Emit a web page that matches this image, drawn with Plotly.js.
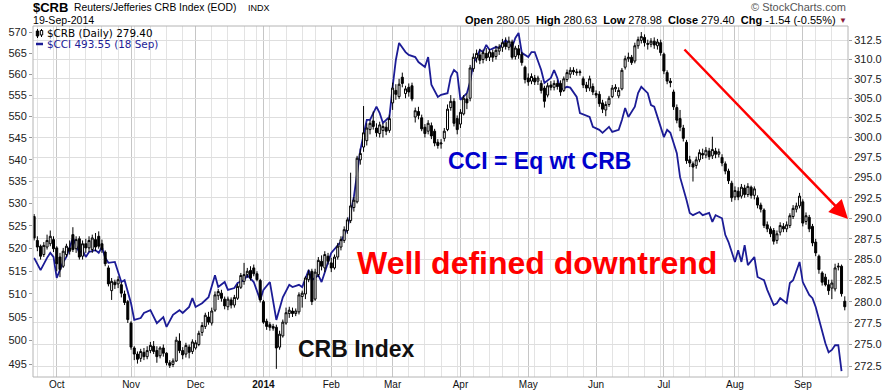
<!DOCTYPE html>
<html><head><meta charset="utf-8">
<script src="https://cdn.plot.ly/plotly-3.0.1.min.js"></script>
<style>html,body{margin:0;padding:0;background:#fff}#chart{width:893px;height:390px}</style>
</head><body><div id="chart"></div>
<script>
// ---- DATA (trading-day index 0 = 20-Sep-2013 ... 251 = 19-Sep-2014) ----
const crbOpen=[290.2,287.3,286.6,285.6,286.5,286.9,287.4,286.4,285.3,284.2,285.6,286.4,288.0,286.3,287.5,285.4,286.9,286.4,286.2,287.4,287.8,286.9,285.9,284.0,281.3,282.3,282.1,282.0,280.9,280.0,
277.5,274.6,273.9,273.4,274.1,273.6,274.3,274.8,274.3,273.7,274.6,274.0,272.9,272.7,273.1,275.4,274.3,273.9,274.7,274.2,
274.6,275.0,276.4,277.1,278.2,277.5,279.0,280.7,281.0,280.3,279.4,280.2,279.6,280.4,281.7,282.4,283.2,283.7,284.0,283.3,282.5,
280.0,277.7,277.3,277.1,277.0,274.7,276.0,277.5,278.6,278.9,278.6,278.8,280.6,280.9,282.6,283.6,280.3,283.2,284.8,284.0,285.4,
284.6,284.0,285.3,286.5,287.3,288.5,289.7,291.3,292.0,297.2,298.8,299.6,301.0,302.1,301.2,300.5,300.9,301.3,300.9,
304.4,306.0,305.2,307.7,305.6,306.4,306.6,302.6,303.3,302.5,301.3,300.8,301.5,300.8,299.4,299.2,299.9,301.0,303.8,304.6,302.4,
301.7,303.0,304.9,305.0,308.8,310.2,310.6,310.0,310.8,310.3,310.9,310.4,311.1,311.6,312.2,311.6,312.3,310.4,311.4,310.7,309.0,
307.6,307.2,307.6,307.2,306.9,306.3,305.4,306.7,306.4,306.9,306.9,306.0,307.4,308.1,308.6,308.4,308.3,307.5,306.7,306.3,306.5,
305.6,305.5,304.4,303.5,304.2,305.2,306.2,305.3,306.2,309.0,310.1,310.3,309.8,311.8,312.5,312.9,312.1,312.0,312.4,311.8,312.2,
310.7,308.3,307.2,305.8,303.8,302.4,301.2,299.4,297.2,296.7,296.5,297.2,298.0,297.8,298.3,297.7,298.3,297.9,297.5,296.7,295.8,294.3,
292.6,293.3,292.7,293.7,292.9,293.8,292.8,292.5,291.6,291.0,289.2,288.7,288.5,287.3,288.3,289.0,288.7,289.1,290.2,291.1,291.5,
292.0,289.6,290.1,289.0,287.1,285.4,283.4,282.9,282.0,281.6,281.5,284.1,284.2,280.05];
const crbHigh=[290.5,287.8,286.8,287.1,288.0,288.5,287.8,286.6,285.8,286.4,286.9,287.3,288.9,287.8,287.8,287.3,287.5,287.8,288.0,288.2,288.4,287.4,286.1,284.3,282.8,282.6,283.0,282.3,281.3,280.2,
277.7,274.8,274.2,274.5,274.6,274.8,275.3,275.4,274.8,274.8,275.0,274.1,273.2,273.4,275.9,276.3,274.7,275.2,275.0,275.6,
275.5,276.6,277.6,278.7,278.8,279.3,281.2,281.5,281.4,280.6,280.6,280.5,280.8,282.1,283.4,284.6,284.0,284.2,284.4,283.6,282.7,
280.2,278.0,277.6,277.4,277.3,276.6,277.9,279.3,279.4,279.3,279.2,281.1,281.3,283.0,283.8,283.9,283.9,285.3,285.5,286.0,285.8,
285.2,285.6,287.0,287.8,289.0,290.1,295.6,292.6,297.7,298.6,304.0,301.8,302.2,303.3,301.8,302.0,301.8,302.0,302.9,
307.0,306.8,307.5,308.3,306.6,306.9,307.0,303.8,303.9,302.9,301.7,302.2,301.9,301.1,299.8,299.8,301.2,304.2,305.4,305.0,302.8,
303.6,305.4,305.6,309.3,310.8,311.3,311.4,311.3,311.5,311.4,311.3,311.8,312.0,312.7,312.9,313.0,312.6,311.8,311.9,311.0,309.2,
308.2,308.2,308.0,307.9,307.3,306.6,307.0,307.2,307.3,307.3,307.3,307.8,308.7,309.0,309.0,308.8,308.7,307.8,307.1,307.9,306.9,
306.0,305.9,304.8,304.6,305.3,306.7,306.8,306.4,308.9,310.5,310.9,310.6,312.2,313.0,313.6,313.3,312.6,312.8,312.9,312.7,312.6,
310.9,308.6,307.6,306.1,304.2,303.5,301.6,299.7,297.7,297.0,297.6,298.5,298.6,298.8,298.7,300.1,298.7,298.6,297.9,297.0,296.1,294.6,
293.9,293.8,294.2,294.1,294.3,294.0,293.9,292.8,291.9,291.2,289.6,289.0,288.8,288.5,289.5,289.4,289.6,290.6,291.6,291.9,293.1,
292.3,290.7,290.4,289.3,287.5,285.6,283.6,283.3,282.6,282.6,284.5,284.6,284.4,280.63];
const crbLow=[287.3,286.0,285.0,285.3,286.2,286.6,285.9,283.6,282.9,284.0,285.3,285.6,285.9,285.8,285.0,285.0,285.8,285.9,285.8,286.0,286.3,285.8,284.2,281.8,280.2,281.5,281.6,280.5,279.6,277.5,
274.4,273.2,272.8,273.0,273.2,273.3,274.0,273.9,272.9,273.4,273.6,272.6,272.3,272.4,273.0,274.0,273.3,273.5,273.4,273.9,
274.4,274.8,276.0,276.8,277.3,277.2,278.8,280.2,280.0,279.1,279.0,279.2,279.3,280.2,281.5,282.0,282.8,282.5,283.0,282.4,279.9,
277.4,276.7,276.6,276.6,272.2,274.4,275.8,277.3,278.1,278.2,278.3,278.5,279.3,280.3,282.3,279.6,280.1,282.9,283.7,283.5,284.4,
283.5,283.8,285.0,286.1,287.0,288.1,289.4,290.8,291.8,296.6,298.2,299.0,300.4,301.0,300.1,300.0,300.0,300.3,300.6,
303.5,304.8,304.9,306.4,305.0,305.2,304.6,301.9,302.3,300.8,300.0,300.4,299.8,298.9,298.6,298.6,299.5,300.8,303.4,301.4,300.4,
301.2,302.8,303.6,304.6,308.4,309.6,309.4,309.5,309.8,309.8,309.7,310.0,310.6,311.0,311.3,311.2,310.0,310.0,310.1,309.2,306.9,
306.6,306.8,306.7,306.7,305.6,303.8,305.1,306.0,306.0,306.1,305.3,305.8,307.1,307.6,308.0,307.9,307.9,306.3,305.8,305.9,305.4,
305.0,303.9,303.1,302.7,303.9,305.0,305.8,305.0,306.0,308.7,309.7,309.3,309.5,311.4,312.1,311.7,311.3,311.6,311.4,311.3,310.5,
308.1,306.8,306.4,303.5,301.8,300.8,299.5,296.7,296.3,294.5,296.1,296.9,297.3,297.4,297.2,297.3,297.4,297.5,296.4,295.4,294.2,292.0,
292.2,292.2,292.4,292.5,292.6,292.4,292.3,291.2,290.7,288.8,288.3,287.7,286.8,286.9,287.9,288.3,288.3,288.8,289.9,290.7,291.2,
289.0,289.2,288.3,286.6,285.4,283.3,281.9,281.8,280.8,280.3,281.2,283.7,280.6,278.98];
const crbClose=[287.6,286.5,285.4,286.7,287.3,287.8,286.3,284.5,283.8,286.0,286.6,286.0,286.2,287.4,285.3,286.9,286.4,287.3,287.6,286.5,286.6,286.2,284.5,282.1,282.4,282.0,282.6,281.0,279.9,277.9,
274.7,273.9,273.3,274.2,273.6,274.3,274.9,274.2,273.6,274.6,274.0,272.9,272.6,273.1,275.5,274.3,273.8,274.9,274.1,275.3,
275.2,276.3,277.2,278.4,277.6,278.9,280.8,281.2,280.4,279.5,280.3,279.6,280.5,281.8,283.1,283.2,283.6,282.8,283.3,282.6,280.2,
277.6,277.1,277.0,276.9,274.6,276.2,277.6,278.7,279.0,278.6,278.9,280.8,281.0,282.8,283.3,280.0,283.5,284.9,284.2,285.6,284.8,
284.0,285.3,286.6,287.4,288.6,289.8,291.5,292.2,297.4,298.0,300.6,301.2,301.8,301.4,300.6,301.6,301.4,300.8,302.4,
306.3,305.5,306.8,306.9,306.2,305.8,304.9,303.4,302.8,301.1,300.5,301.8,300.2,299.3,299.0,299.3,300.8,303.6,304.6,301.8,301.0,
303.2,305.0,304.4,308.9,310.3,310.8,309.9,310.9,310.2,311.0,310.3,311.2,311.6,312.2,311.7,312.4,310.3,311.5,310.6,309.6,307.4,
307.1,307.8,307.1,307.6,306.0,304.6,306.6,306.4,306.9,306.5,305.8,307.5,308.3,308.6,308.4,308.3,308.4,306.7,306.3,307.5,305.8,
305.4,304.3,303.6,304.2,305.0,306.3,306.4,306.0,308.6,310.1,310.3,309.6,311.8,312.6,313.0,312.2,312.0,312.4,311.9,312.3,310.9,
308.5,307.2,307.0,303.9,302.2,301.3,299.9,297.1,296.8,296.3,297.2,298.1,297.8,298.4,297.6,298.5,297.9,298.2,296.8,295.8,294.6,292.5,
293.4,292.6,293.8,292.9,293.9,292.8,293.6,291.6,291.1,289.1,288.7,288.1,287.2,288.1,289.1,288.7,289.2,290.3,291.2,291.5,292.7,
289.4,290.3,288.7,287.0,285.8,283.8,282.3,282.0,281.3,282.2,284.0,284.2,280.94,279.40];

// CCI (equal-weight CRB), read at the trading days where the line changes direction
const cciDay=[0,2,4,5,6,7,9,10,12,14,15,16,17,19,20,21,22,23,25,26,27,28,30,31,33,34,36,38,40,41,43,45,46,48,49,50,52,54,56,57,59,60,62,63,65,66,68,70,71,73,74,75,77,79,80,82,83,85,86,88,89,90,92,95,97,99,101,103,104,106,107,108,110,111,112,113,115,116,118,119,121,122,123,125,126,128,129,130,131,132,134,135,136,137,138,139,140,141,143,144,146,148,149,150,151,153,154,155,157,158,160,161,162,163,165,166,168,169,172,173,175,176,178,179,181,182,183,184,186,187,188,190,191,192,193,194,195,196,197,199,200,202,203,204,206,207,209,210,211,213,214,215,217,218,219,220,221,223,224,226,227,229,230,231,233,234,235,237,238,240,241,242,243,245,246,247,248,249,250];
const cciVal=[517.9,515.2,517.9,519.0,518.1,513.5,517.0,518.1,522.3,519.0,519.6,518.1,519.2,519.6,519.0,520.3,517.9,516.8,517.0,514.8,512.6,513.0,508.0,504.4,504.8,505.9,506.5,503.7,505.0,502.9,505.5,506.5,505.9,507.2,509.1,507.2,508.0,509.3,514.1,511.5,512.6,510.9,511.3,512.4,513.0,514.1,512.6,508.7,510.9,512.6,508.7,504.4,509.3,512.0,511.5,512.0,511.5,515.2,513.0,514.1,512.6,514.8,519.0,521.5,524.5,531.5,542.2,549.2,549.2,552.3,550.8,548.5,549.9,557.0,563.4,567.5,565.3,564.6,564.1,562.9,561.7,564.1,557.5,554.6,555.1,555.5,559.4,561.0,560.3,553.9,555.5,558.2,562.7,563.9,565.8,565.3,567.0,565.8,566.5,566.3,568.2,566.5,568.7,569.9,565.1,564.1,565.3,565.3,561.0,557.9,559.1,561.0,559.1,556.3,557.0,556.8,554.6,550.8,549.9,547.6,546.9,546.2,547.6,546.4,546.9,549.2,552.0,549.9,552.3,555.5,557.0,555.5,552.7,552.3,549.9,547.6,545.2,546.9,546.2,541.5,536.0,530.8,527.9,527.4,528.1,527.4,527.9,525.9,527.4,526.7,523.0,521.4,517.0,519.6,517.0,520.7,516.3,518.1,513.7,513.0,510.9,507.6,508.0,509.1,508.0,512.4,513.0,517.0,512.6,509.8,509.1,507.2,504.4,499.4,497.5,498.0,499.0,499.0,493.55];

// axis ticks
const monthDay=[7,30,50,71,92,111,132,153,174,195,217,238];
const monthLabels=['Oct','Nov','Dec','<b>2014</b>','Feb','Mar','Apr','May','Jun','Jul','Aug','Sep'];
const weekDay=[1,6,11,16,21,26,31,36,41,46,55,60,65,69,73,78,83,87,97,102,106,116,121,126,131,136,141,145,150,155,160,165,170,179,184,189,194,198,203,208,213,218,223,228,233,242,247];
const cciTicks=[495,500,505,510,515,520,525,530,535,540,545,550,555,560,565,570];
const crbTicks=[272.5,275,277.5,280,282.5,285,287.5,290,292.5,295,297.5,300,302.5,305,307.5,310,312.5];

// ---- CHART ----
const L=33,R=848,T=26,B=377;
const px=x=>(x-L)/(R-L);
const py=y=>(B-y)/(B-T);
const days=crbClose.map((_,i)=>i);

const traces=[
 {type:'scatter',mode:'lines',x:cciDay,y:cciVal,yaxis:'y',xaxis:'x',
  line:{color:'#1c1c96',width:1.8},hoverinfo:'skip'},
 {type:'candlestick',x:days,open:crbOpen,high:crbHigh,low:crbLow,close:crbClose,yaxis:'y2',xaxis:'x',
  increasing:{line:{color:'#000',width:1},fillcolor:'#fff'},
  decreasing:{line:{color:'#000',width:1},fillcolor:'#000'},
  whiskerwidth:0,hoverinfo:'skip'}
];

const sans='"Liberation Sans", Arial, sans-serif';
const ann=[];
function t(text,x,y,opt){ann.push(Object.assign({text:text,xref:'paper',yref:'paper',x:px(x),y:py(y),showarrow:false,xanchor:'left',yanchor:'middle',font:{family:sans,size:11,color:'#000'}},opt||{}));}
t('<b>$CRB</b>',31,8,{font:{family:sans,size:13,color:'#000'}});
t('Reuters/Jefferies CRB Index (EOD)',72,8,{font:{family:sans,size:10.3,color:'#000'}});
t('INDX',246,8,{font:{family:sans,size:9,color:'#000'}});
t('19-Sep-2014',31,20,{font:{family:sans,size:10.6,color:'#000'}});
t('© StockCharts.com',848,7,{xanchor:'right',font:{family:sans,size:11,color:'#555'}});
t('<b>Open</b> 280.05  <b>High</b> 280.63  <b>Low</b> 278.98  <b>Close</b> 279.40  <b>Chg</b> -1.54 (-0.55%)',838,20,{xanchor:'right',font:{family:sans,size:11,color:'#000'}});
t('▼',849,20,{xanchor:'right',font:{family:sans,size:8,color:'#8b1a3a'}});
t('$CRB (Daily) 279.40',45,33,{font:{family:'"DejaVu Sans", Verdana, sans-serif',size:10.4,color:'#000'}});
t('$CCI 493.55 (18 Sep)',45,44,{font:{family:'"DejaVu Sans", Verdana, sans-serif',size:10.4,color:'#1c1c96'}});
t('<b>CCI = Eq wt CRB</b>',539,161,{xanchor:'center',font:{family:sans,size:23,color:'#0000cc'}});
t('<b>Well defined downtrend</b>',537,263,{xanchor:'center',font:{family:sans,size:32,color:'#ff0000'}});
t('<b>CRB Index</b>',356,349,{xanchor:'center',font:{family:sans,size:23,color:'#111'}});
ann.push({xref:'paper',yref:'paper',x:px(848),y:py(219),ax:683-848,ay:48-219,text:'',showarrow:true,
  arrowhead:2,arrowsize:1.5,arrowwidth:2.5,arrowcolor:'#ff0000'});

const shapes=[
 {type:'rect',xref:'paper',yref:'paper',x0:0,x1:1,y0:0,y1:1,line:{color:'#b4b4b4',width:1}},
 // legend icons
 {type:'line',xref:'paper',yref:'paper',x0:px(37.5),x1:px(37.5),y0:py(29),y1:py(38),line:{color:'#000',width:1}},
 {type:'rect',xref:'paper',yref:'paper',x0:px(36.3),x1:px(38.7),y0:py(31),y1:py(36),fillcolor:'#000',line:{color:'#000',width:1}},
 {type:'line',xref:'paper',yref:'paper',x0:px(41.5),x1:px(41.5),y0:py(29),y1:py(37),line:{color:'#000',width:1}},
 {type:'rect',xref:'paper',yref:'paper',x0:px(40.3),x1:px(42.7),y0:py(30.5),y1:py(35),fillcolor:'#fff',line:{color:'#000',width:1}},
 {type:'line',xref:'paper',yref:'paper',x0:px(36),x1:px(43),y0:py(44),y1:py(44),line:{color:'#1c1c96',width:2.5}}
];

const layout={
 width:893,height:390,margin:{l:L,r:893-R,t:T,b:390-B,pad:0},
 paper_bgcolor:'#fff',plot_bgcolor:'#fff',showlegend:false,boxgap:0.12,
 xaxis:{type:'linear',range:[-0.35,252.0],tickmode:'array',tickvals:monthDay,ticktext:monthLabels,
  showgrid:true,gridcolor:'#c6c6c6',gridwidth:1,zeroline:false,showline:false,ticks:'',
  tickfont:{family:'"Liberation Sans Narrow", "Liberation Sans", Arial, sans-serif',size:10,color:'#111'},
  rangeslider:{visible:false},fixedrange:true,
  minor:{tickmode:'array',tickvals:weekDay,showgrid:true,gridcolor:'#e3e3e3',gridwidth:1,ticks:''}},
 yaxis:{type:'log',side:'left',range:[Math.log10(492.3),Math.log10(571.6)],tickmode:'array',
  tickvals:cciTicks,ticktext:cciTicks.map(String),showgrid:false,zeroline:false,showline:false,
  ticks:'outside',ticklen:3,tickcolor:'#999',tickfont:{family:sans,size:11,color:'#222'},fixedrange:true},
 yaxis2:{type:'log',side:'right',overlaying:'y',range:[Math.log10(271.27),Math.log10(314.4)],tickmode:'array',
  tickvals:crbTicks,ticktext:crbTicks.map(v=>v.toFixed(1)),showgrid:true,gridcolor:'#dedede',zeroline:false,showline:false,
  ticks:'outside',ticklen:3,tickcolor:'#999',tickfont:{family:sans,size:11,color:'#222'},fixedrange:true},
 annotations:ann,shapes:shapes
};
Plotly.newPlot('chart',traces,layout,{staticPlot:true,displayModeBar:false});
</script></body></html>
